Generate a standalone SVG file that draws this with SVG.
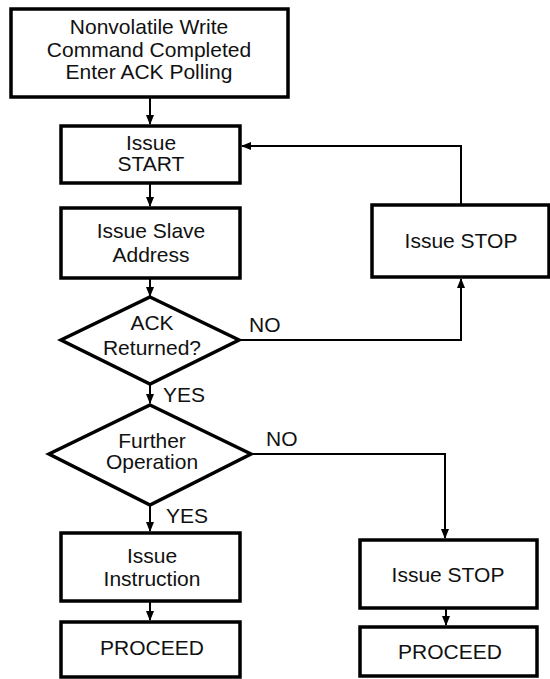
<svg xmlns="http://www.w3.org/2000/svg" width="550" height="679" viewBox="0 0 550 679">
<defs>
<marker id="ah" markerWidth="10" markerHeight="8" refX="9" refY="4" orient="auto" markerUnits="userSpaceOnUse">
<path d="M0,0 L10,4 L0,8 Z" fill="#000"/>
</marker>
<style>
.n{fill:#fff;stroke:#000;stroke-width:3.5}
.t{font-family:"Liberation Sans",Arial,sans-serif;font-size:21px;fill:#111;text-anchor:middle}
.l{font-family:"Liberation Sans",Arial,sans-serif;font-size:21px;fill:#111}
.c{fill:none;stroke:#000;stroke-width:2}
</style>
</defs>
<rect width="550" height="679" fill="#fff"/>
<g id="connectors">
<path class="c" d="M150,98 V124" marker-end="url(#ah)"/>
<path class="c" d="M150,184 V206" marker-end="url(#ah)"/>
<path class="c" d="M150,279 V296" marker-end="url(#ah)"/>
<path class="c" d="M150,384 V403" marker-end="url(#ah)"/>
<path class="c" d="M150,505 V531" marker-end="url(#ah)"/>
<path class="c" d="M150,602 V620" marker-end="url(#ah)"/>
<path class="c" d="M239,340 H461 V279" marker-end="url(#ah)"/>
<path class="c" d="M461,204 V146 H242" marker-end="url(#ah)"/>
<path class="c" d="M251,454 H445 V538" marker-end="url(#ah)"/>
<path class="c" d="M446,609 V625" marker-end="url(#ah)"/>
<text class="l" x="249" y="332">NO</text>
<text class="l" x="163" y="402">YES</text>
<text class="l" x="266" y="446">NO</text>
<text class="l" x="166" y="523">YES</text>
</g>
<g id="start">
<rect class="n" x="11" y="9" width="277" height="88"/>
<text class="t" x="149" y="34">Nonvolatile Write</text>
<text class="t" x="149" y="56.5">Command Completed</text>
<text class="t" x="149" y="79">Enter ACK Polling</text>
</g>
<g id="issue-start">
<rect class="n" x="61" y="126" width="179" height="57"/>
<text class="t" x="151" y="150">Issue</text>
<text class="t" x="151" y="171">START</text>
</g>
<g id="slave-address">
<rect class="n" x="61" y="208" width="179" height="70"/>
<text class="t" x="151" y="238">Issue Slave</text>
<text class="t" x="151" y="262">Address</text>
</g>
<g id="ack-returned">
<polygon class="n" points="150,297 239,340 150,384 61,340"/>
<text class="t" x="152" y="330">ACK</text>
<text class="t" x="152" y="355">Returned?</text>
</g>
<g id="stop-1">
<rect class="n" x="372" y="205" width="177" height="72"/>
<text class="t" x="461" y="248">Issue STOP</text>
</g>
<g id="further-operation">
<polygon class="n" points="150,405 251,454 150,505 49,454"/>
<text class="t" x="152" y="448">Further</text>
<text class="t" x="152" y="469">Operation</text>
</g>
<g id="issue-instruction">
<rect class="n" x="61" y="533" width="179" height="68"/>
<text class="t" x="152" y="563">Issue</text>
<text class="t" x="152" y="586">Instruction</text>
</g>
<g id="proceed-1">
<rect class="n" x="61" y="622" width="179" height="55"/>
<text class="t" x="152" y="655">PROCEED</text>
</g>
<g id="stop-2">
<rect class="n" x="360" y="540" width="177" height="68"/>
<text class="t" x="448" y="582">Issue STOP</text>
</g>
<g id="proceed-2">
<rect class="n" x="360" y="627" width="177" height="49"/>
<text class="t" x="450" y="659">PROCEED</text>
</g>
</svg>
